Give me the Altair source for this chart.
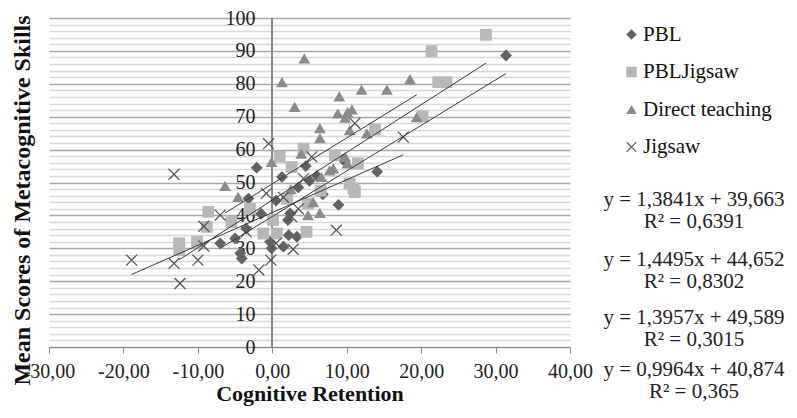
import altair as alt
import pandas as pd

groups = ["PBL", "PBLJigsaw", "Direct teaching", "Jigsaw"]
colors = ["#626262", "#b8b8b8", "#8b8b8b", "#555555"]
x_mark = "M-1,-0.85L-0.85,-1L0,-0.15L0.85,-1L1,-0.85L0.15,0L1,0.85L0.85,1L0,0.15L-0.85,1L-1,0.85L-0.15,0Z"
shapes = ["diamond", "square", "triangle-up", x_mark]

pbl_x = [31.4, 14.1, -2.1, 1.3, 6.8, 8.9, 2.4, 2.2, 3.3, -0.3, -0.1, -7.0, -4.1, 2.1, -3.2, -4.3,
         3.5, 5.0, 4.5, 0.5, -1.5, -3.5, 6.0, 1.5, 9.5, -5.0]
pbl_y = [88.6, 53.3, 54.5, 51.7, 46.4, 43.2, 40.6, 34.0, 33.5, 32.0, 30.0, 31.5, 26.9, 38.6, 45.1, 28.5,
         48.5, 50.5, 55.0, 44.5, 40.5, 36.0, 52.0, 30.5, 57.0, 33.0]

jig2_x = [28.7, 21.4, 22.3, 23.4, 20.2, 13.8, 1.0, 4.2, 8.4, 2.6, 11.5, 10.4, 11.1, 4.8, -8.6, -8.8,
          -12.5, -12.5, -10.1, -1.2, 0.6, 0.1, 4.6, 10.9, -3.0, 6.5, 2.0, -5.5]
jig2_y = [94.9, 89.9, 80.5, 80.5, 70.1, 66.1, 57.8, 60.3, 58.3, 54.7, 55.8, 49.7, 47.1, 43.6, 41.1, 36.5,
          31.5, 29.4, 32.0, 34.5, 34.5, 38.6, 35.0, 48.2, 42.0, 47.5, 45.0, 38.0]

dt_x = [4.3, 1.3, 3.0, 9.0, 12.0, 15.4, 18.5, 19.4, 8.8, 10.1, 10.7, 9.8, 10.4, 6.4, 6.4, 12.7, -0.1,
        -6.35, 3.9, 9.8, 10.1, 7.7, 6.6, 4.8, 6.4, -4.6, 8.2, 2.5, 5.5]
dt_y = [87.7, 80.5, 73.0, 76.2, 78.2, 78.2, 81.4, 69.9, 71.0, 71.4, 72.2, 69.7, 65.9, 66.5, 63.5, 64.9, 56.3,
        49.0, 58.8, 57.8, 55.8, 53.7, 51.7, 40.1, 40.8, 45.6, 54.3, 48.0, 44.0]

jig_x = [-13.2, -18.9, -13.2, -12.4, -10.0, -9.2, -9.2, -7.0, -1.8, -0.2, -0.5, 8.6, 17.6, 11.1, 5.3, 4.2,
         2.6, 2.8, -0.8, 1.5, 3.5, -3.5, 0.5]
jig_y = [52.5, 26.4, 25.4, 19.3, 26.4, 36.7, 30.7, 40.1, 23.4, 26.4, 61.8, 35.5, 63.8, 68.0, 57.8, 51.2,
         39.6, 29.7, 46.7, 45.5, 42.0, 35.0, 31.5]

slopes = [1.3841, 1.4495, 1.3957, 0.9964]
intercepts = [39.663, 44.652, 49.589, 40.874]
equations = ["y = 1,3841x + 39,663\nR² = 0,6391",
             "y = 1,4495x + 44,652\nR² = 0,8302",
             "y = 1,3957x + 49,589\nR² = 0,3015",
             "y = 0,9964x + 40,874\nR² = 0,365"]

xs_all = [pbl_x, jig2_x, dt_x, jig_x]
ys_all = [pbl_y, jig2_y, dt_y, jig_y]

rows = []
for g, xs, ys in zip(groups, xs_all, ys_all):
    for a, b in zip(xs, ys):
        rows.append({"group": g, "x": a, "y": b})
points = pd.DataFrame(rows)

lrows = []
for g, xs, m, c in zip(groups, xs_all, slopes, intercepts):
    for a in (min(xs), max(xs)):
        lrows.append({"group": g, "x": a, "y": m * a + c})
lines = pd.DataFrame(lrows)

FONT = "Liberation Serif"
x_scale = alt.Scale(domain=[-30, 40], nice=False)
y_scale = alt.Scale(domain=[0, 100], nice=False)

x_axis = alt.Axis(
    values=[-30, -20, -10, 0, 10, 20, 30, 40],
    labelExpr="replace((datum.value < 0 ? '-' : '') + format(abs(datum.value), '.2f'), '.', ',')",
    grid=False, domainColor="#8a8a8a", tickColor="#8a8a8a", tickSize=6,
    labelFont=FONT, labelFontSize=20, labelColor="#222222", labelPadding=8,
    labelFlush=False, labelOverlap=False,
    titleFont=FONT, titleFontSize=22, titleFontWeight="bold", titleColor="#111111",
    titleY=53, titleBaseline="alphabetic",
)
y_axis = alt.Axis(
    values=list(range(0, 101, 2)),
    labelExpr="datum.value % 10 === 0 ? datum.label : ''",
    grid=True,
    gridColor=alt.condition("datum.value % 10 === 0", alt.value("#a9a9a9"), alt.value("#d8d8d8")),
    gridWidth=1.5, domain=False, ticks=False, tickSize=0, labelPadding=-206,
    labelFont=FONT, labelFontSize=20, labelColor="#222222", labelOverlap=False,
    titleFont=FONT, titleFontSize=24, titleFontWeight="bold", titleColor="#111111",
    titleX=-27, titleY=182, titleAngle=270, titleAlign="center", titleBaseline="middle",
)

XT = "Cognitive Retention"
YT = "Mean Scores of Metacognitive Skills"

vline = alt.Chart(points).mark_rule(color="#8a8a8a", strokeWidth=1).encode(
    x=alt.XDatum(0, scale=x_scale, axis=x_axis, title=XT)
)

leg = alt.Legend(title=None, labelFont=FONT, labelFontSize=21, labelColor="#111111")
pts = alt.Chart(points).mark_point(filled=True, size=140, opacity=1).encode(
    x=alt.X("x:Q", scale=x_scale, axis=x_axis, title=XT),
    y=alt.Y("y:Q", scale=y_scale, axis=y_axis, title=YT),
    color=alt.Color("group:N", scale=alt.Scale(domain=groups, range=colors), legend=leg),
    shape=alt.Shape("group:N", scale=alt.Scale(domain=groups, range=shapes), legend=leg),
)

trend = alt.Chart(lines).mark_line(color="#3c3c3c", strokeWidth=1).encode(
    x=alt.X("x:Q", scale=x_scale, axis=x_axis, title=XT),
    y=alt.Y("y:Q", scale=y_scale, axis=y_axis, title=YT),
    detail="group:N",
)

eq_top = [171, 231, 289, 341]
texts = []
for t, yy in zip(equations, eq_top):
    texts.append(
        alt.Chart(pd.DataFrame({"t": [t]})).mark_text(
            font=FONT, fontSize=21, color="#222222", align="center", baseline="top",
            lineBreak="\n", lineHeight=22,
        ).encode(text="t:N", x=alt.value(645), y=alt.value(yy))
    )

chart = alt.layer(vline, pts, trend, *texts).properties(
    width=521, height=329,
    autosize=alt.AutoSizeParams(type="none"),
    padding={"left": 41, "top": 10, "right": 219, "bottom": 59},
).configure(font=FONT).configure_view(stroke="transparent").configure_axis(
    labelFont=FONT, titleFont=FONT
).configure_legend(
    orient="none", legendX=572, legendY=6, padding=0,
    labelFont=FONT, labelFontSize=21, labelColor="#111111",
    symbolSize=110, rowPadding=15.5, labelOffset=1,
)

chart.save("out.html", embed_options={"renderer": "svg", "actions": False})
